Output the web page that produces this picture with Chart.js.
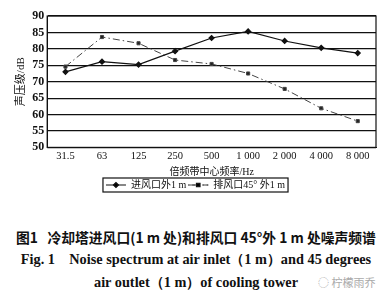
<!DOCTYPE html>
<html>
<head>
<meta charset="utf-8">
<script src="https://cdn.jsdelivr.net/npm/chart.js@4"></script>
<style>
  body { margin:0; background:#fff; width:392px; height:301px; position:relative; overflow:hidden; }
  #wrap { position:absolute; left:0; top:0; width:392px; height:206px; }
  .cap { position:absolute; left:0; width:392px; text-align:center; color:#111; white-space:nowrap; }
  #c1 { top:227px; font:bold 13.8px 'Noto Sans CJK SC', sans-serif; }
  #c2 { top:250px; font:bold 14.3px 'Liberation Serif', serif; }
  #c3 { top:273px; font:bold 14.3px 'Liberation Serif', serif; }
  #wm { position:absolute; left:318px; top:274px; font:11px 'Noto Sans CJK SC', sans-serif; color:#aaa; }
</style>
</head>
<body>
<div id="wrap"><canvas id="mycanvas" width="392" height="206"></canvas></div>
<div class="cap" id="c1">图1&nbsp;&nbsp;&nbsp;冷却塔进风口(1 m 处)和排风口 45°外 1 m 处噪声频谱</div>
<div class="cap" id="c2">Fig. 1&nbsp;&nbsp;&nbsp;&nbsp;Noise spectrum at air inlet（1 m）and 45 degrees</div>
<div class="cap" id="c3">air outlet（1 m）of cooling tower</div>
<div id="wm">◌ 柠檬雨乔</div>
<script>
var freqs = ['31.5', '63', '125', '250', '500', '1 000', '2 000', '4 000', '8 000'];
var inlet = [73.0, 76.1, 75.2, 79.3, 83.3, 85.3, 82.4, 80.3, 78.7];
var outlet = [74.6, 83.6, 81.7, 76.6, 75.4, 72.5, 67.8, 61.9, 58.0];
var seriesNames = ['进风口外1 m', '排风口45° 外1 m'];
var yTitle = '声压级/dB';
var xTitle = '倍频带中心频率/Hz';

var serif = "'Liberation Serif', 'Noto Sans CJK SC', serif";

// border round the plot and round the legend, plus markers on legend lines
var framePlugin = {
	id: 'frame',
	afterDraw: function(chart) {
		var ctx = chart.ctx;
		var a = chart.chartArea;
		ctx.save();
		ctx.strokeStyle = '#111';
		ctx.lineWidth = 1.2;
		ctx.strokeRect(a.left, a.top, a.right - a.left, a.bottom - a.top);
		var lg = chart.legend;
		var boxes = lg.legendHitBoxes;
		if (boxes && boxes.length) {
			var l = boxes[0].left - 3;
			var last = boxes[boxes.length - 1];
			var r = last.left + last.width + 3;
			var t = boxes[0].top - 2;
			var b = boxes[0].top + boxes[0].height + 2;
			ctx.strokeRect(l, t, r - l, b - t);
			boxes.forEach(function(h, i) {
				var ds = chart.data.datasets[i];
				var cx = h.left + 10;
				var cy = h.top + h.height / 2;
				Chart.helpers.drawPoint(ctx, {pointStyle: ds.pointStyle, radius: 2.5, rotation: 0, borderWidth: 1}, cx, cy);
			});
		}
		ctx.restore();
	}
};

var ctx = document.getElementById('mycanvas');
var chart = new Chart(ctx, {
	type: 'line',
	data: {
		labels: freqs,
		datasets: [
			{
				label: seriesNames[0],
				data: inlet,
				borderColor: '#111',
				backgroundColor: '#111',
				borderWidth: 1.2,
				pointStyle: 'rectRot',
				pointRadius: 2.5,
				tension: 0
			},
			{
				label: seriesNames[1],
				data: outlet,
				borderColor: '#444',
				backgroundColor: '#222',
				borderWidth: 1,
				borderDash: [7, 3, 1.5, 3],
				pointStyle: 'rect',
				pointRadius: 2.2,
				tension: 0
			}
		]
	},
	options: {
		responsive: false,
		animation: false,
		devicePixelRatio: 1,
		layout: { padding: { left: 15, right: 16, top: 16, bottom: 6 } },
		plugins: {
			tooltip: { enabled: false },
			legend: {
				display: true,
				position: 'bottom',
				labels: {
					color: '#111',
					font: { family: serif, size: 10 },
					boxWidth: 20,
					boxHeight: 0,
					padding: 2
				}
			}
		},
		scales: {
			x: {
				offset: true,
				grid: { display: false, drawTicks: false },
				border: { color: '#111' },
				ticks: { color: '#111', font: { family: serif, size: 10.5 }, maxRotation: 0, padding: 3 },
				title: { display: true, text: xTitle, color: '#111', font: { family: serif, size: 10 }, padding: { top: 0, bottom: 0 } }
			},
			y: {
				min: 50,
				max: 90,
				grid: { color: '#111', lineWidth: 1.2, drawTicks: false },
				border: { color: '#111' },
				ticks: { stepSize: 5, autoSkip: false, color: '#111', font: { family: serif, size: 12, weight: 'bold' }, padding: 3 },
				title: { display: true, text: yTitle, color: '#111', font: { family: serif, size: 11 }, padding: { top: 0, bottom: 1 } }
			}
		}
	},
	plugins: [framePlugin]
});
</script>
</body>
</html>
